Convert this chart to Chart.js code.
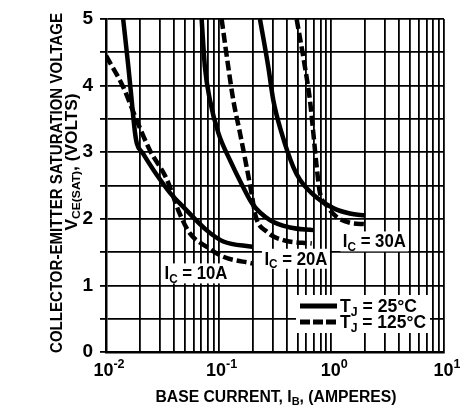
<!DOCTYPE html>
<html>
<head>
<meta charset="utf-8">
<script src="https://cdn.jsdelivr.net/npm/chart.js@4.4.1/dist/chart.umd.min.js"></script>
<style>
  html, body { margin: 0; padding: 0; background: #fff; }
</style>
</head>
<body>
<canvas id="vceChart" width="460" height="408"></canvas>
<script>
// base current (A) and VCE(sat) (V)
const ib10_25 = [0.0142, 0.0158, 0.0169, 0.0181, 0.0188, 0.0213, 0.0282, 0.037, 0.0485, 0.078, 0.11, 0.2];
const vce10_25 = [5.0, 4.28, 3.78, 3.29, 3.13, 2.98, 2.66, 2.39, 2.18, 1.83, 1.66, 1.58];
const ib10_125 = [0.0100, 0.0142, 0.0187, 0.0245, 0.0345, 0.045, 0.0556, 0.078, 0.11, 0.2];
const vce10_125 = [4.45, 3.98, 3.48, 3.03, 2.60, 2.08, 1.78, 1.58, 1.43, 1.33];
const ib20_25 = [0.0706, 0.0755, 0.0837, 0.0993, 0.126, 0.16, 0.2, 0.285, 0.43, 0.69];
const vce20_25 = [5.0, 4.28, 3.78, 3.29, 2.88, 2.52, 2.22, 1.98, 1.87, 1.83];
const ib20_125 = [0.1062, 0.1217, 0.1349, 0.1545, 0.177, 0.196, 0.212, 0.27, 0.374, 0.67];
const vce20_125 = [5.0, 4.28, 3.78, 3.29, 2.78, 2.38, 2.05, 1.80, 1.68, 1.63];
const ib30_25 = [0.2325, 0.2757, 0.3055, 0.362, 0.459, 0.53, 0.74, 1.04, 1.46, 2.0];
const vce30_25 = [5.0, 4.28, 3.78, 3.29, 2.78, 2.58, 2.32, 2.16, 2.08, 2.05];
const ib30_125 = [0.492, 0.583, 0.646, 0.692, 0.741, 0.79, 0.908, 1.11, 1.46, 2.0];
const vce30_125 = [5.0, 4.28, 3.78, 3.29, 2.78, 2.40, 2.20, 2.03, 1.94, 1.92];

const xGridValues = [
  0.01, 0.02, 0.03, 0.04, 0.05, 0.06, 0.07, 0.08, 0.09,
  0.1, 0.2, 0.3, 0.4, 0.5, 0.6, 0.7, 0.8, 0.9,
  1, 2, 3, 4, 5, 6, 7, 8, 9, 10
];
const xDecades = [0.01, 0.1, 1, 10];
const xExponents = ["-2", "-1", "0", "1"];
const icLabels = ["10A", "20A", "30A"];
const icLabelPos = [[0.0629, 1.18], [0.485, 1.40], [2.41, 1.66]];
const tjLabels = ["25°C", "125°C"];

const FAM = '"Liberation Sans", Arial, sans-serif';
const font = sz => `bold ${sz}px ${FAM}`;
const DASH = [10, 4];

function pts(xs, ys) {
  return xs.map((x, i) => ({ x: x, y: ys[i] }));
}
function curve(xs, ys, dashed) {
  return {
    data: pts(xs, ys),
    borderColor: "#000",
    borderWidth: 4.5,
    borderDash: dashed ? DASH : [],
    pointRadius: 0,
    cubicInterpolationMode: "monotone",
    fill: false
  };
}

// text made of normal, subscript and superscript pieces
function pieceSize(p, sz) {
  return p.sub || p.sup ? sz * 0.7 : sz;
}
function richWidth(ctx, parts, sz) {
  let w = 0;
  parts.forEach(p => {
    ctx.font = font(pieceSize(p, sz));
    w += ctx.measureText(p.t).width;
  });
  return w;
}
function drawRich(ctx, parts, x, y, sz, align, targetW) {
  const w = richWidth(ctx, parts, sz);
  const sx = targetW ? targetW / w : 1;
  ctx.save();
  ctx.translate(x, y);
  ctx.scale(sx, 1);
  ctx.fillStyle = "#000";
  ctx.textBaseline = "alphabetic";
  ctx.textAlign = "left";
  let cx = align === "center" ? -w / 2 : 0;
  parts.forEach(p => {
    ctx.font = font(pieceSize(p, sz));
    const dy = p.sub ? sz * 0.2 : p.sup ? -sz * 0.42 : 0;
    ctx.fillText(p.t, cx, dy);
    cx += ctx.measureText(p.t).width;
  });
  ctx.restore();
  return w * sx;
}

const labelBoxes = {
  id: "labelBoxes",
  beforeDatasetsDraw(chart) {
    const { ctx, chartArea: a, scales } = chart;
    ctx.save();
    ctx.fillStyle = "#fff";
    icLabelPos.forEach(p => {
      const x = scales.x.getPixelForValue(p[0]);
      const y = scales.y.getPixelForValue(p[1]);
      ctx.fillRect(x - 34, y - 10, 68, 20);
    });
    ctx.fillRect(a.right - 148, a.bottom - 57, 134, 38);
    ctx.restore();
  },
  afterDatasetsDraw(chart) {
    const { ctx, chartArea: a, scales } = chart;
    icLabelPos.forEach((p, i) => {
      const x = scales.x.getPixelForValue(p[0]);
      const y = scales.y.getPixelForValue(p[1]);
      drawRich(ctx, [{ t: "I" }, { t: "C", sub: true }, { t: " = " + icLabels[i] }], x, y + 6, 18, "center", 63);
    });
    // legend
    const lx = a.right - 144, ly1 = a.bottom - 46, ly2 = a.bottom - 30;
    ctx.save();
    ctx.strokeStyle = "#000";
    ctx.lineWidth = 5;
    [ly1, ly2].forEach((ly, i) => {
      ctx.setLineDash(i ? [10, 3] : []);
      ctx.beginPath();
      ctx.moveTo(lx, ly);
      ctx.lineTo(lx + 37, ly);
      ctx.stroke();
      drawRich(ctx, [{ t: "T" }, { t: "J", sub: true }, { t: " = " + tjLabels[i] }], lx + 40, ly + 6, 18, "left", i ? 86 : 77);
    });
    ctx.restore();
  },
  afterDraw(chart) {
    const { ctx, chartArea: a, scales } = chart;
    // x decade labels with real superscripts
    xDecades.forEach((v, i) => {
      const x = scales.x.getPixelForValue(v);
      drawRich(ctx, [{ t: "10" }, { t: xExponents[i], sup: true }], x + 3, a.bottom + 24, 18, "center");
    });
    // y axis title, two rotated lines
    ctx.save();
    ctx.translate(62, 183);
    ctx.rotate(-Math.PI / 2);
    drawRich(ctx, [{ t: "COLLECTOR-EMITTER SATURATION VOLTAGE" }], 0, 0, 16, "center", 340);
    ctx.restore();
    ctx.save();
    ctx.translate(77, 162);
    ctx.rotate(-Math.PI / 2);
    drawRich(ctx, [{ t: "V" }, { t: "CE(SAT)", sub: true }, { t: ", (VOLTS)" }], 0, 0, 16, "center", 137);
    ctx.restore();
    // x axis title
    drawRich(ctx, [{ t: "BASE CURRENT, I" }, { t: "B", sub: true }, { t: ", (AMPERES)" }], 276, 402, 16, "center", 241);
  }
};

new Chart(document.getElementById("vceChart"), {
  type: "line",
  data: {
    datasets: [
      curve(ib10_25, vce10_25, false),
      curve(ib10_125, vce10_125, true),
      curve(ib20_25, vce20_25, false),
      curve(ib20_125, vce20_125, true),
      curve(ib30_25, vce30_25, false),
      curve(ib30_125, vce30_125, true)
    ]
  },
  options: {
    responsive: false,
    animation: false,
    layout: { padding: { left: 0, top: 19, right: 16, bottom: 0 } },
    plugins: { legend: { display: false }, tooltip: { enabled: false } },
    scales: {
      x: {
        type: "logarithmic",
        min: 0.01,
        max: 10,
        afterBuildTicks: s => { s.ticks = xGridValues.map(v => ({ value: v })); },
        afterFit: s => { s.height = 56; },
        grid: { color: "#000", lineWidth: 1.8, drawTicks: false },
        border: { color: "#000", width: 2.5 },
        ticks: { display: false }
      },
      y: {
        min: 0,
        max: 5,
        afterFit: s => { s.width = 106; },
        grid: { color: "#000", lineWidth: 1.8, tickLength: 6 },
        border: { color: "#000", width: 2.5 },
        ticks: {
          stepSize: 0.5,
          padding: 7,
          color: "#000",
          font: { family: FAM, size: 19, weight: "bold" },
          callback: v => (Number.isInteger(v) ? String(v) : "")
        }
      }
    }
  },
  plugins: [labelBoxes]
});
</script>
</body>
</html>
